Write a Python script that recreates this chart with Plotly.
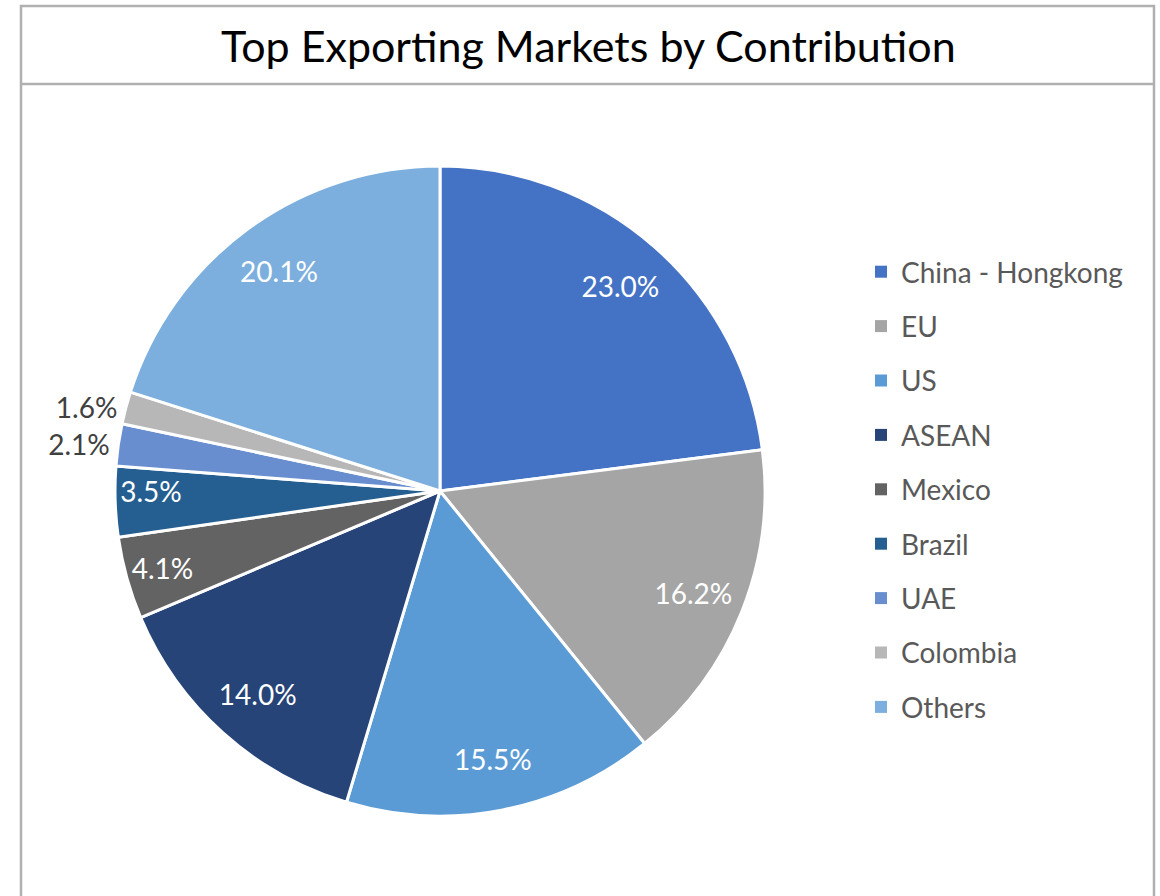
import plotly.graph_objects as go

labels = ["China - Hongkong", "EU", "US", "ASEAN", "Mexico", "Brazil", "UAE", "Colombia", "Others"]
values = [23.0, 16.2, 15.5, 14.0, 4.1, 3.5, 2.1, 1.6, 20.1]
colors = ["#4472C4", "#A5A5A5", "#5B9BD5", "#264478", "#636363",
          "#255E91", "#698ED0", "#B7B7B7", "#7CAFDD"]
text_pos = ["inside", "inside", "inside", "inside", "inside", "inside", "outside", "outside", "inside"]
text_colors = ["white", "white", "white", "white", "white", "white", "#404040", "#404040", "white"]

W, H = 1160, 896
FONT = "Lato"
DOMAIN = dict(x=[115 / W, 765 / W], y=[1 - 816 / H, 1 - 166 / H])

fig = go.Figure()
# slices
fig.add_trace(go.Pie(
    labels=labels, values=values, sort=False, direction="clockwise", rotation=0,
    marker=dict(colors=colors, line=dict(color="white", width=3)),
    textinfo="none", domain=DOMAIN, showlegend=False, hoverinfo="label+value",
))
# data labels (transparent ring so labels sit near the rim)
fig.add_trace(go.Pie(
    labels=labels, values=values, sort=False, direction="clockwise", rotation=0,
    hole=0.68,
    marker=dict(colors=["rgba(0,0,0,0)"] * len(labels), line=dict(width=0)),
    texttemplate="%{value:.1f}%", textposition=text_pos,
    insidetextorientation="horizontal",
    textfont=dict(family=FONT, size=28, color=text_colors),
    domain=DOMAIN, showlegend=False, hoverinfo="skip",
))

for lab, col in zip(labels, colors):
    fig.add_trace(go.Scatter(
        x=[None], y=[None], mode="markers", name=lab, legendgroup=lab,
        marker=dict(symbol="square", size=12, color=col),
        showlegend=True,
    ))

fig.update_layout(
    width=W, height=H,
    margin=dict(l=0, r=0, t=0, b=0),
    paper_bgcolor="white", plot_bgcolor="white",
    xaxis=dict(visible=False), yaxis=dict(visible=False),
    legend=dict(
        x=861 / W, y=1 - 247 / H, xanchor="left", yanchor="top",
        font=dict(family=FONT, size=28, color="#595959"),
        tracegroupgap=15, itemsizing="trace", bgcolor="rgba(0,0,0,0)",
    ),
    annotations=[dict(
        text="Top Exporting Markets by Contribution",
        x=588 / W, y=1 - 46 / H, xref="paper", yref="paper",
        xanchor="center", yanchor="middle", showarrow=False,
        font=dict(family=FONT, size=43, color="black"),
    )],
    shapes=[
        dict(type="rect", xref="paper", yref="paper",
             x0=21 / W, x1=1154 / W, y0=1 - 6 / H, y1=-0.01,
             line=dict(color="#B0B0B0", width=2.5)),
        dict(type="line", xref="paper", yref="paper",
             x0=21 / W, x1=1154 / W, y0=1 - 84 / H, y1=1 - 84 / H,
             line=dict(color="#B0B0B0", width=2.5)),
    ],
)

fig.write_html("out.html", config={"displayModeBar": False},
               post_script="document.body.style.margin='0';document.body.style.overflow='hidden';")
